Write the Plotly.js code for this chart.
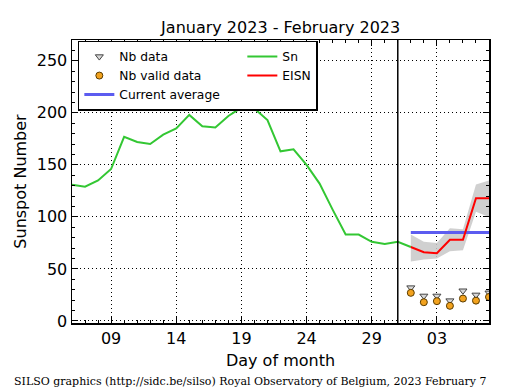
<!DOCTYPE html>
<html>
<head>
<meta charset="utf-8">
<script src="https://cdn.plot.ly/plotly-3.0.1.min.js"></script>
<style>
html,body{margin:0;padding:0;background:#fff;}
#chart{width:515px;height:390px;}
</style>
</head>
<body>
<div id="chart"></div>
<script>
// Day of month (January days; February continues as 32, 33, ...)
const snDays = [6,7,8,9,10,11,12,13,14,15,16,17,18,19,20,21,22,23,24,25,26,27,28,29,30,31,32];
const snValues = [131,129,135,146,177,172,170,179,185,198,187,186,197,205,204,193,163,165,150,132,107,83,83,76,74,76,71];

const eisnDays = [32,33,34,35,36,37,38];
const eisnValues = [71,66,65,78,78,118,118];
const eisnUpper = [83,76,75,89,88,131,135];
const eisnLower = [57,59,60,67,68,105,100];

const nbData = [32,24,24,19.5,29,25,27];
const nbValid = [27,18,19,14.5,21.5,19.5,23];

const currentAverage = 85;
const lastSnDay = 31;

const tickVals = [9,14,19,24,29,34];
const tickText = ["09","14","19","24","29","03"];

const avgDays = [eisnDays[0], eisnDays[eisnDays.length-1]];
const avgValues = avgDays.map(() => currentAverage);

const leftColWidth = 118;

const traces = [
  {x: eisnDays, y: eisnLower, mode:'lines', line:{width:0, color:'rgba(0,0,0,0)'}, showlegend:false, hoverinfo:'skip'},
  {x: eisnDays, y: eisnUpper, mode:'lines', fill:'tonexty', fillcolor:'rgba(200,200,200,0.85)', line:{width:0, color:'rgba(0,0,0,0)'}, showlegend:false, hoverinfo:'skip'},
  {x: eisnDays, y: nbData, name:'Nb data', mode:'markers', legendrank:1, legendwidth:leftColWidth,
   marker:{symbol:'triangle-down', size:7, color:'#d8d8d8', line:{color:'#444', width:1}}},
  {x: snDays, y: snValues, name:'Sn', mode:'lines', legendrank:2, line:{color:'#33c733', width:2}},
  {x: eisnDays, y: nbValid, name:'Nb valid data', mode:'markers', legendrank:3, legendwidth:leftColWidth,
   marker:{symbol:'circle', size:7, color:'#f2a21e', line:{color:'#5a3c00', width:1}}},
  {x: avgDays, y: avgValues, name:'Current average', mode:'lines', legendrank:5, legendwidth:leftColWidth, line:{color:'#5c5cf0', width:3}},
  {x: eisnDays, y: eisnValues, name:'EISN', mode:'lines', legendrank:4, line:{color:'#ff0000', width:2}}
];

const axisCommon = {
  showline:true, linecolor:'#000', linewidth:1.5, mirror:'allticks',
  ticks:'inside', ticklen:6, tickwidth:1, tickcolor:'#000',
  showgrid:true, gridcolor:'#000', griddash:'1px,3px', gridwidth:1,
  zeroline:false,
  tickfont:{family:'DejaVu Sans', size:16, color:'#000'}
};

const layout = {
  width:515, height:390,
  margin:{l:72, r:26, t:40, b:67},
  paper_bgcolor:'#fff', plot_bgcolor:'#fff',
  font:{family:'DejaVu Sans', color:'#000'},
  title:{text:'January 2023 - February 2023', font:{family:'DejaVu Sans', size:16, color:'#000'}, x:0.545, xanchor:'center', y:0.931, yanchor:'middle'},
  xaxis: Object.assign({}, axisCommon, {
    range:[6,38], tickmode:'array', tickvals:tickVals, ticktext:tickText,
    minor:{dtick:1, tick0:0, ticks:'inside', ticklen:3, tickcolor:'#000', showgrid:false},
    title:{text:'Day of month', font:{family:'DejaVu Sans', size:16, color:'#000'}, standoff:8}
  }),
  yaxis: Object.assign({}, axisCommon, {
    range:[-2,270], tickmode:'linear', tick0:0, dtick:50,
    minor:{dtick:10, tick0:0, ticks:'inside', ticklen:3, tickcolor:'#000', showgrid:false},
    title:{text:'Sunspot Number', font:{family:'DejaVu Sans', size:16, color:'#000'}, standoff:6}
  }),
  shapes:[
    {type:'line', xref:'x', yref:'paper', x0:lastSnDay, x1:lastSnDay, y0:0, y1:1, line:{color:'#000', width:1.5}}
  ],
  legend:{
    x:0.014, y:0.998, xanchor:'left', yanchor:'top', orientation:'h', traceorder:'normal',
    bgcolor:'#fff', bordercolor:'#000', borderwidth:1.5,
    font:{family:'DejaVu Sans', size:12.3, color:'#000'},
    itemwidth:30
  },
  annotations:[
    {text:'SILSO graphics (http://sidc.be/silso) Royal Observatory of Belgium, 2023 February 7',
     xref:'paper', yref:'paper', x:-0.144, y:-0.205, xanchor:'left', yanchor:'middle', showarrow:false,
     font:{family:'DejaVu Serif', size:11, color:'#000'}}
  ],
  showlegend:true
};

Plotly.newPlot('chart', traces, layout, {displayModeBar:false, staticPlot:true});
</script>
</body>
</html>
